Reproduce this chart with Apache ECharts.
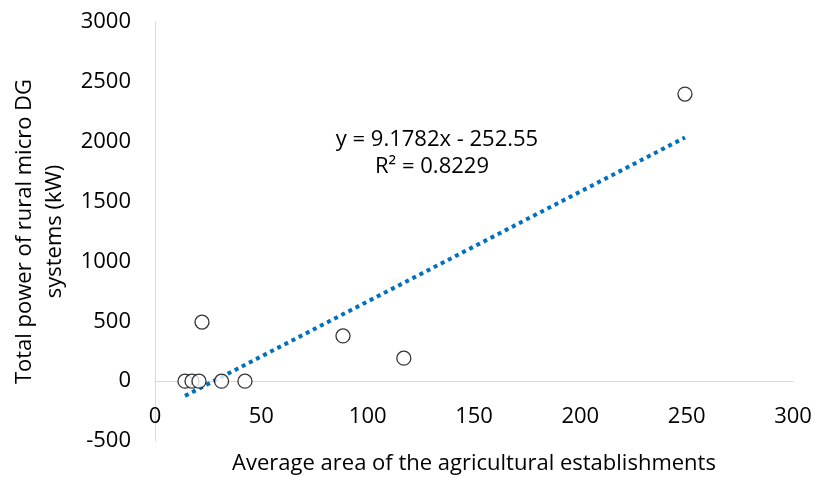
<!DOCTYPE html>
<html><head><meta charset="utf-8">
<script src="https://cdn.jsdelivr.net/npm/echarts@6/dist/echarts.min.js"></script>
<style>html,body{margin:0;padding:0;background:#fff}#c{width:815px;height:477px}</style>
</head><body><div id="c"></div>
<script>
const xValues = [249.2, 22.1, 88.4, 117.0, 14.1, 17.4, 20.7, 31.3, 42.3];
const yValues = [2398, 493, 378, 192, 0, 0, 0, 0, 0];
const trendX = [14.1, 249.2];
const trendY = [-123, 2035];
const xTicks = [0, 50, 100, 150, 200, 250, 300];
const yTicks = [-500, 0, 500, 1000, 1500, 2000, 2500, 3000];
const eqLine1 = 'y = 9.1782x - 252.55';
const eqLine2 = 'R² = 0.8229';
const xTitle = 'Average area of the agricultural establishments';
const yTitle = 'Total power of rural micro DG\nsystems (kW)';

const font = '"Open Sans", sans-serif';
const fs = 22;
const chart = echarts.init(document.getElementById('c'));
chart.setOption({
  animation: false,
  grid: {left: 155, right: 22, top: 22, bottom: 36, containLabel: false, outerBoundsMode: 'none'},
  xAxis: {
    type: 'value', min: xTicks[0], max: xTicks[xTicks.length-1], interval: 50,
    axisLine: {onZero: true, lineStyle: {color: '#d9d9d9', width: 1}},
    axisTick: {show: false}, splitLine: {show: false},
    axisLabel: {color: '#000', fontSize: fs, fontFamily: font, margin: -35, formatter: v => String(v)},
    name: xTitle, nameLocation: 'middle', nameGap: 12,
    nameTextStyle: {color: '#000', fontSize: fs, fontFamily: font}
  },
  yAxis: {
    type: 'value', min: yTicks[0], max: yTicks[yTicks.length-1], interval: 500,
    axisLine: {show: true, lineStyle: {color: '#d9d9d9', width: 1}},
    axisTick: {show: false}, splitLine: {show: false},
    axisLabel: {color: '#000', fontSize: fs, fontFamily: font, margin: 24, formatter: v => String(v)},
    name: yTitle, nameLocation: 'middle', nameGap: 81, nameRotate: 90,
    nameTextStyle: {color: '#000', fontSize: fs, fontFamily: font, lineHeight: 30}
  },
  series: [
    {
      type: 'line', data: trendX.map((x, i) => [x, trendY[i]]),
      symbol: 'none', z: 1,
      lineStyle: {color: '#0070C0', width: 4, type: [4, 4], cap: 'butt'}
    },
    {
      type: 'scatter', data: xValues.map((x, i) => [x, yValues[i]]),
      symbol: 'circle', symbolSize: 14, z: 2,
      itemStyle: {color: '#fff', borderColor: '#000', borderWidth: 1.3}
    }
  ],
  graphic: [
    {type: 'text', x: 437, y: 140, style: {text: eqLine1, align: 'center', verticalAlign: 'middle', fontSize: fs, fontFamily: font, fill: '#000'}},
    {type: 'text', x: 432, y: 167, style: {text: eqLine2, align: 'center', verticalAlign: 'middle', fontSize: fs, fontFamily: font, fill: '#000'}}
  ]
});
</script></body></html>
